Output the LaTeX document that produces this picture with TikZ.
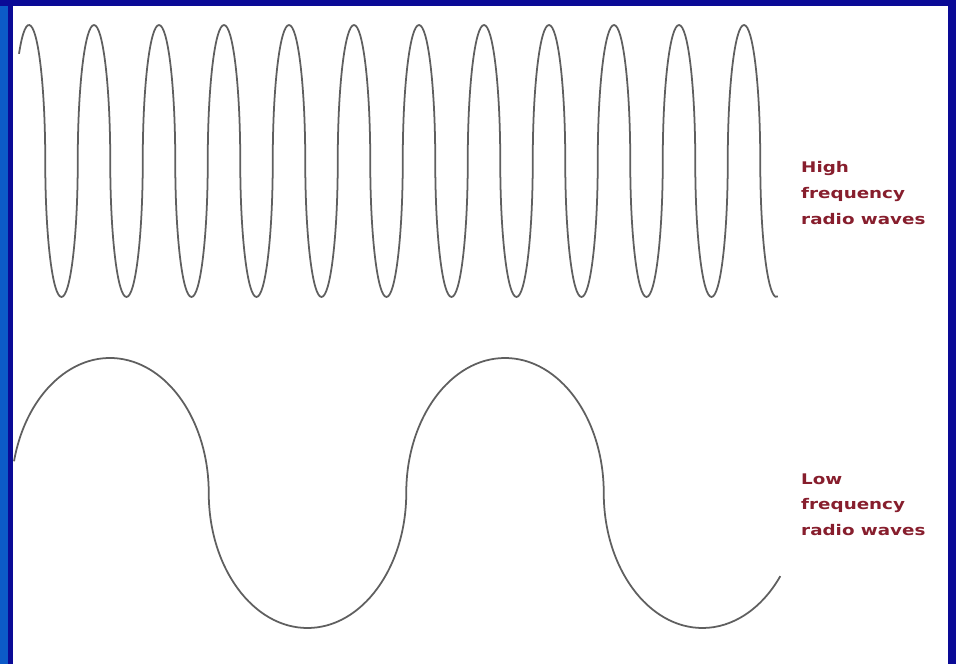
\documentclass[tikz,border=0pt]{standalone}
\usepackage{graphicx}
\usepackage{fontspec}
\setmainfont{DejaVu Sans}
\definecolor{navyedge}{RGB}{10,10,150}
\definecolor{sideblue}{RGB}{12,90,200}
\definecolor{labelred}{RGB}{135,30,45}
\definecolor{waveline}{RGB}{95,95,95}
\newcommand\pxl{0.3mm}
\begin{document}
\begin{tikzpicture}[x=\pxl,y=\pxl,
  wave/.style={draw=waveline,line width=1.5pt},
  lbl/.style={anchor=base west,inner sep=0pt,text=labelred,font=\bfseries\fontsize{12.5}{22}\selectfont}]
  % frame
  \fill[navyedge] (0,0) rectangle (956,664);
  \fill[sideblue] (0,0) rectangle (8,658);
  \fill[white] (13,0) rectangle (948,658);
  % high frequency: narrow half-ellipses
  \draw[wave] ({29+16.25*cos(128)},{503+136*sin(128)})
    arc[start angle=128,end angle=0,x radius=16.25*\pxl,y radius=136*\pxl]
    foreach \k in {1,...,11} {
      arc[start angle=180,end angle=360,x radius=16.25*\pxl,y radius=136*\pxl]
      arc[start angle=180,end angle=0,x radius=16.25*\pxl,y radius=136*\pxl]
    }
    arc[start angle=180,end angle=275,x radius=16.25*\pxl,y radius=136*\pxl];
  % low frequency: wide half-ellipses
  \draw[wave] ({110+98.75*cos(166.4)},{171+135*sin(166.4)})
    arc[start angle=166.4,end angle=0,x radius=98.75*\pxl,y radius=135*\pxl]
    arc[start angle=180,end angle=360,x radius=98.75*\pxl,y radius=135*\pxl]
    arc[start angle=180,end angle=0,x radius=98.75*\pxl,y radius=135*\pxl]
    arc[start angle=180,end angle=322,x radius=98.75*\pxl,y radius=135*\pxl];
  \node[lbl] (high) at (801,491) {\scalebox{1.25}[1]{\begin{tabular}[t]{@{}l@{}}High\\frequency\\radio waves\end{tabular}}};
  \node[lbl] (low) at (801,180) {\scalebox{1.25}[1]{\begin{tabular}[t]{@{}l@{}}Low\\frequency\\radio waves\end{tabular}}};
\end{tikzpicture}
\end{document}
